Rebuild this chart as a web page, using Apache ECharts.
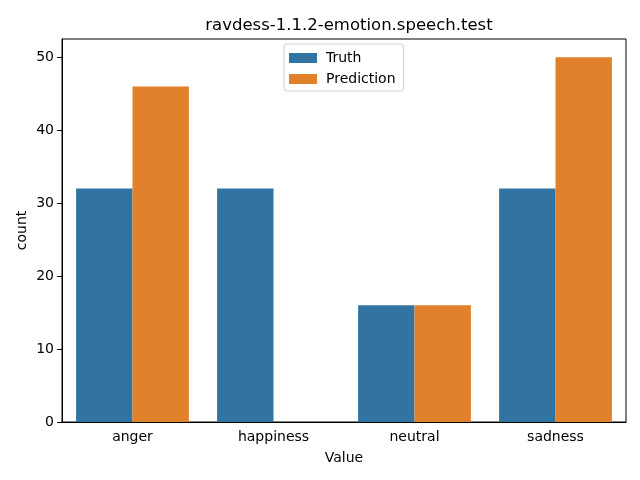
<!DOCTYPE html>
<html>
<head>
<meta charset="utf-8">
<script src="https://cdn.jsdelivr.net/npm/echarts@6/dist/echarts.min.js"></script>
<style>
  html, body { margin: 0; padding: 0; background: #fff; }
  #chart { width: 640px; height: 480px; }
</style>
</head>
<body>
<div id="chart"></div>
<script>
var categories = ['anger', 'happiness', 'neutral', 'sadness'];
var truthValues = [32, 32, 16, 32];
var predictionValues = [46, 0, 16, 50];
var yTicks = [0, 10, 20, 30, 40, 50];

var font = 'DejaVu Sans';
var myChart = echarts.init(document.getElementById('chart'));

var option = {
    backgroundColor: '#ffffff',
    animation: false,
    color: ['#3274a1', '#e1812c'],
    title: {
        text: 'ravdess-1.1.2-emotion.speech.test',
        left: 344,
        top: 12,
        textAlign: 'center',
        textStyle: { fontFamily: font, fontSize: 16.5, fontWeight: 'normal', color: '#000' }
    },
    legend: {
        orient: 'vertical',
        left: 284,
        top: 44,
        padding: [7, 8, 5, 5],
        itemWidth: 28,
        itemHeight: 10,
        itemGap: 7,
        borderColor: '#d0d0d0',
        borderWidth: 1,
        borderRadius: 3,
        backgroundColor: 'rgba(255,255,255,0.8)',
        icon: 'rect',
        textStyle: { fontFamily: font, fontSize: 14, color: '#000', padding: [0, 0, 0, 4] },
        data: ['Truth', 'Prediction']
    },
    grid: {
        left: 62,
        right: 14,
        top: 39,
        bottom: 58,
        show: true,
        borderColor: '#000',
        borderWidth: 1,
        containLabel: false
    },
    xAxis: {
        type: 'category',
        data: categories,
        name: 'Value',
        nameLocation: 'middle',
        nameGap: 29,
        nameTextStyle: { fontFamily: font, fontSize: 14, color: '#000' },
        axisLine: { lineStyle: { color: '#000', width: 1 } },
        axisTick: { alignWithLabel: true, length: 5, lineStyle: { color: '#000' } },
        axisLabel: { fontFamily: font, fontSize: 14, color: '#000', margin: 8 },
        splitLine: { show: false }
    },
    yAxis: {
        type: 'value',
        min: 0,
        max: 52.5,
        interval: 10,
        name: 'count',
        nameLocation: 'middle',
        nameGap: 33,
        nameMoveOverlap: false,
        nameTextStyle: { fontFamily: font, fontSize: 14, color: '#000' },
        axisLine: { show: true, lineStyle: { color: '#000', width: 1 } },
        axisTick: { show: true, length: 5, lineStyle: { color: '#000' }, customValues: yTicks },
        axisLabel: { fontFamily: font, fontSize: 14, color: '#000', margin: 8, customValues: yTicks },
        splitLine: { show: false }
    },
    series: [
        {
            name: 'Truth',
            type: 'bar',
            data: truthValues,
            barGap: '0%',
            barCategoryGap: '20%'
        },
        {
            name: 'Prediction',
            type: 'bar',
            data: predictionValues,
            barGap: '0%',
            barCategoryGap: '20%'
        }
    ]
};

myChart.setOption(option);
</script>
</body>
</html>
